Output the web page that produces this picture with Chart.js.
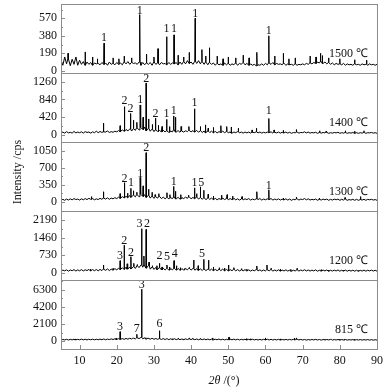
<!DOCTYPE html>
<html>
<head>
<meta charset="utf-8">
<script src="https://cdn.jsdelivr.net/npm/chart.js@4.4.1/dist/chart.umd.min.js"></script>
<style>
  html, body { margin: 0; padding: 0; background: #fff; }
  canvas { display: block; }
</style>
</head>
<body>
<canvas id="xrd" width="392" height="388"></canvas>
<script>
// 2θ axis
const xTicks = [10, 20, 30, 40, 50, 60, 70, 80, 90];

// y tick labels per pattern
const yTicks1500 = [0, 190, 380, 570];
const yTicks1400 = [0, 420, 840, 1260];
const yTicks1300 = [0, 350, 700, 1050];
const yTicks1200 = [0, 730, 1460, 2190];
const yTicks815 = [0, 2100, 4200, 6300];

// background counts from 5° to 90° in 0.5° steps
const base1500 = [
  110, 60, 150, 75, 130, 55, 125, 70, 140, 60,
  115, 70, 100, 60, 95, 70, 90, 60, 85, 75,
  80, 65, 90, 70, 85, 60, 95, 70, 80, 65,
  90, 70, 85, 65, 95, 75, 100, 70, 90, 80,
  85, 70, 95, 60, 90, 65, 85, 70, 90, 60,
  95, 70, 85, 65, 90, 75, 80, 65, 90, 70,
  85, 75, 90, 65, 95, 70, 100, 75, 110, 80,
  95, 70, 105, 80, 110, 75, 100, 70, 95, 65,
  90, 70, 85, 60, 80, 65, 75, 60, 85, 65,
  80, 60, 75, 65, 85, 60, 80, 70, 90, 65,
  80, 60, 75, 60, 70, 55, 65, 60, 75, 60,
  80, 65, 85, 70, 90, 65, 80, 70, 75, 65,
  80, 60, 75, 65, 70, 60, 75, 60, 70, 65,
  75, 65, 80, 70, 85, 75, 90, 80, 95, 85,
  100, 80, 95, 75, 90, 70, 85, 65, 80, 70,
  75, 65, 80, 60, 75, 65, 70, 60, 75, 65,
  70, 60, 75, 65, 70, 60, 75, 65, 70, 60,
  70
];
const base1400 = [
  40, 70, 45, 80, 50, 65, 45, 85, 50, 70,
  55, 75, 45, 80, 60, 70, 45, 75, 55, 90,
  55, 85, 60, 75, 70, 95, 60, 80, 65, 90,
  75, 105, 80, 120, 90, 130, 100, 140, 95, 150,
  110, 170, 120, 180, 130, 190, 100, 160, 90, 140,
  80, 120, 85, 110, 75, 115, 70, 100, 65, 95,
  75, 120, 70, 105, 65, 95, 70, 100, 80, 110,
  75, 105, 70, 110, 65, 100, 60, 95, 55, 90,
  60, 90, 55, 85, 50, 80, 60, 90, 55, 80,
  50, 75, 45, 70, 55, 80, 50, 70, 45, 70,
  50, 70, 45, 65, 55, 75, 50, 70, 45, 65,
  50, 70, 55, 75, 45, 65, 50, 70, 45, 65,
  50, 70, 45, 65, 40, 60, 50, 70, 45, 60,
  55, 75, 50, 70, 45, 60, 50, 65, 40, 60,
  45, 60, 50, 65, 40, 55, 45, 60, 50, 65,
  40, 55, 45, 60, 40, 55, 45, 60, 40, 55,
  40, 55, 45, 60, 40, 55, 50, 60, 45, 55,
  40
];
const base1300 = [
  30, 55, 35, 60, 40, 65, 45, 70, 50, 60,
  40, 65, 45, 70, 50, 75, 55, 70, 45, 65,
  50, 75, 55, 80, 60, 85, 55, 80, 65, 90,
  70, 100, 75, 110, 85, 120, 90, 130, 95, 140,
  105, 150, 110, 160, 115, 150, 95, 140, 80, 120,
  75, 110, 80, 115, 70, 100, 65, 95, 60, 90,
  70, 100, 65, 95, 60, 90, 70, 100, 75, 105,
  65, 95, 70, 100, 60, 90, 55, 85, 50, 80,
  55, 80, 50, 75, 45, 70, 55, 80, 50, 70,
  45, 70, 50, 75, 45, 65, 40, 60, 45, 65,
  50, 70, 40, 60, 45, 65, 50, 70, 40, 60,
  45, 65, 50, 70, 40, 60, 45, 65, 40, 60,
  45, 65, 40, 60, 35, 55, 45, 65, 40, 60,
  50, 70, 45, 65, 40, 55, 45, 60, 35, 55,
  40, 60, 45, 60, 35, 55, 40, 60, 45, 60,
  35, 55, 40, 60, 35, 50, 40, 55, 35, 55,
  35, 50, 40, 55, 35, 55, 45, 55, 40, 50,
  35
];
const base1200 = [
  70, 120, 90, 130, 75, 125, 95, 140, 80, 130,
  90, 140, 85, 135, 100, 150, 90, 140, 95, 145,
  90, 150, 100, 160, 110, 170, 100, 160, 120, 180,
  130, 200, 140, 220, 150, 240, 160, 250, 170, 260,
  190, 300, 220, 330, 240, 330, 200, 300, 160, 250,
  150, 230, 140, 220, 130, 200, 125, 190, 120, 180,
  130, 200, 120, 190, 115, 180, 125, 190, 130, 200,
  120, 190, 115, 180, 110, 170, 105, 160, 100, 160,
  105, 160, 100, 150, 95, 150, 100, 160, 95, 150,
  90, 140, 95, 150, 90, 140, 85, 130, 90, 140,
  85, 130, 80, 125, 90, 140, 85, 130, 80, 125,
  85, 135, 90, 140, 80, 125, 85, 130, 80, 120,
  85, 130, 80, 120, 75, 115, 85, 130, 80, 125,
  90, 135, 85, 125, 80, 120, 85, 130, 75, 115,
  80, 120, 85, 125, 75, 115, 80, 120, 85, 125,
  75, 115, 80, 120, 75, 115, 80, 115, 75, 115,
  75, 110, 80, 120, 75, 115, 85, 120, 80, 115,
  75
];
const base815 = [
  110, 190, 130, 210, 120, 200, 140, 220, 130, 210,
  150, 230, 140, 220, 130, 210, 150, 230, 140, 220,
  150, 240, 160, 250, 150, 240, 170, 260, 180, 270,
  190, 290, 200, 300, 210, 320, 220, 340, 230, 350,
  260, 400, 300, 430, 280, 400, 240, 350, 220, 330,
  210, 310, 200, 300, 190, 290, 180, 280, 170, 270,
  180, 280, 170, 260, 160, 250, 170, 260, 180, 270,
  170, 260, 160, 250, 150, 240, 160, 250, 150, 240,
  150, 230, 140, 220, 150, 230, 140, 220, 130, 210,
  140, 220, 150, 230, 140, 220, 130, 210, 140, 220,
  130, 210, 140, 220, 130, 200, 120, 200, 130, 210,
  140, 220, 130, 210, 120, 200, 130, 210, 120, 190,
  130, 210, 120, 200, 130, 210, 140, 220, 130, 200,
  120, 190, 110, 180, 120, 190, 130, 200, 120, 190,
  110, 180, 120, 190, 130, 200, 110, 180, 120, 190,
  110, 180, 120, 190, 110, 170, 120, 180, 110, 170,
  120, 180, 110, 170, 120, 180, 110, 170, 100, 160,
  110
];

// diffraction peaks: [2θ, counts]
const peaks1500 = [
  [6.9, 190], [9.0, 150], [11.5, 205], [13.5, 150], [14.8, 130], [16.6, 300], [19.0, 140],
  [20.6, 130], [22.0, 160], [24.0, 140], [26.2, 610], [28.0, 180], [30.0, 150], [31.1, 240],
  [33.4, 370], [35.4, 390], [36.5, 170], [38.0, 150], [39.5, 200], [41.1, 570], [42.9, 230],
  [43.9, 160], [44.9, 250], [47.0, 160], [48.6, 130], [50.0, 150], [52.0, 140], [54.0, 170],
  [55.6, 140], [57.7, 200], [60.9, 380], [62.5, 160], [64.8, 190], [66.3, 130], [68.0, 140],
  [72.0, 160], [73.6, 150], [74.8, 190], [75.3, 165], [77.0, 140], [80.0, 130], [84.0, 120],
  [87.2, 115]
];
const peaks1400 = [
  [16.4, 280], [20.9, 220], [22.1, 670], [23.7, 510], [24.5, 350], [25.4, 300], [26.3, 710],
  [27.1, 420], [27.9, 1230], [28.6, 380], [29.6, 250], [30.4, 400], [31.2, 230], [32.2, 200],
  [33.4, 370], [34.2, 200], [35.3, 450], [35.8, 420], [37.3, 200], [39.4, 200], [40.9, 620],
  [42.5, 200], [43.8, 240], [44.6, 160], [46.0, 180], [48.0, 220], [49.6, 200], [50.8, 190],
  [52.7, 160], [56.4, 120], [57.6, 160], [60.9, 390], [62.3, 120], [64.8, 110], [68.3, 130],
  [74.6, 100], [76.3, 90], [81.5, 100], [84.0, 90], [86.5, 100]
];
const peaks1300 = [
  [13.2, 110], [16.4, 210], [20.9, 170], [22.1, 395], [22.9, 180], [23.8, 280], [24.5, 230],
  [25.4, 200], [26.3, 505], [27.1, 330], [27.9, 1009], [28.6, 260], [29.5, 200], [30.3, 150],
  [31.3, 170], [33.5, 190], [34.3, 150], [35.3, 320], [35.8, 220], [37.2, 150], [39.3, 140],
  [40.9, 290], [41.5, 170], [42.5, 310], [43.4, 240], [44.6, 160], [46.0, 120], [48.2, 140],
  [49.7, 150], [51.2, 120], [53.7, 110], [57.7, 210], [60.9, 250], [64.8, 80], [68.3, 100],
  [74.5, 80], [81.4, 90], [85.6, 110]
];
const peaks1200 = [
  [12.9, 160], [16.4, 330], [19.0, 200], [20.9, 508], [22.0, 1150], [22.8, 380], [23.8, 674],
  [24.6, 400], [25.5, 350], [26.7, 1830], [27.3, 700], [27.9, 1800], [28.7, 450], [29.6, 300],
  [30.8, 300], [31.5, 400], [32.2, 250], [33.5, 330], [34.2, 250], [35.4, 510], [36.1, 300],
  [37.1, 220], [38.2, 180], [39.5, 230], [40.7, 535], [41.9, 300], [43.4, 565], [44.7, 530],
  [46.0, 250], [47.6, 220], [49.0, 200], [50.1, 330], [51.5, 220], [53.6, 180], [55.0, 160],
  [57.7, 290], [60.4, 330], [61.5, 200], [64.0, 160], [66.8, 150], [68.5, 200], [73.5, 130],
  [75.0, 140], [77.0, 120], [81.0, 110], [85.0, 100]
];
const peaks815 = [
  [8.8, 250], [12.4, 220], [16.0, 250], [19.8, 350], [20.9, 1150], [23.5, 300], [24.3, 350],
  [25.4, 830], [26.7, 6400], [27.8, 400], [28.4, 300], [29.5, 280], [31.5, 1270], [33.5, 300],
  [35.0, 280], [36.6, 350], [38.0, 250], [39.5, 380], [40.4, 330], [42.5, 300], [45.8, 380],
  [47.3, 250], [50.2, 480], [54.9, 300], [56.0, 280], [60.0, 380], [64.0, 260], [67.8, 350],
  [68.3, 380], [73.5, 230], [75.7, 250], [77.7, 220], [80.0, 230], [81.2, 220], [83.9, 200]
];

// phase labels: [2θ, counts at text baseline, text]
const labels1500 = [[16.6, 324, "1"], [26.2, 616, "1"], [33.4, 420, "1"], [35.4, 420, "1"], [41.1, 584, "1"], [60.9, 400, "1"]];
const labels1400 = [[22.1, 733, "2"], [23.7, 544, "2"], [26.3, 756, "1"], [27.9, 1253, "2"], [30.4, 425, "2"],
  [33.4, 425, "1"], [35.3, 496, "1"], [40.9, 693, "1"], [60.9, 496, "1"]];
const labels1300 = [[22.1, 409, "2"], [23.8, 327, "1"], [26.3, 522, "1"], [27.9, 1034, "2"], [35.3, 348, "1"],
  [40.9, 327, "1"], [42.7, 327, "5"], [60.9, 276, "1"]];
const labels1200 = [[20.9, 566, "3"], [22.0, 1198, "2"], [23.8, 702, "2"], [26.1, 1900, "3"], [28.1, 1900, "2"],
  [31.5, 566, "2"], [33.5, 537, "5"], [35.6, 674, "4"], [42.9, 674, "5"]];
const labels815 = [[20.9, 1358, "3"], [25.4, 1150, "7"], [26.7, 6510, "3"], [31.5, 1692, "6"]];

const temps = ["815 ℃", "1200 ℃", "1300 ℃", "1400 ℃", "1500 ℃"];

// bottom panel first: left stacked axes are laid out in reverse
const panels = [
  { id: "y815", base: base815, peaks: peaks815, ticks: yTicks815, labels: labels815, min: -988, max: 7535 },
  { id: "y1200", base: base1200, peaks: peaks1200, ticks: yTicks1200, labels: labels1200, min: -289, max: 2562 },
  { id: "y1300", base: base1300, peaks: peaks1300, ticks: yTicks1300, labels: labels1300, min: -184, max: 1228 },
  { id: "y1400", base: base1400, peaks: peaks1400, ticks: yTicks1400, labels: labels1400, min: -165, max: 1466 },
  { id: "y1500", base: base1500, peaks: peaks1500, ticks: yTicks1500, labels: labels1500, min: -24, max: 725 },
];

const SERIF = '"Liberation Serif", "Times New Roman", serif';
const STEP = 0.5;

function buildSeries(base, peaks) {
  const pts = base.map((v, i) => ({ x: 5 + i * STEP, y: v }));
  peaks.forEach(([pos, h]) => {
    const i = Math.min(base.length - 1, Math.max(0, Math.round((pos - 5) / STEP)));
    pts.push({ x: pos - 0.06, y: base[i] }, { x: pos, y: h }, { x: pos + 0.06, y: base[i] });
  });
  return pts.sort((a, b) => a.x - b.x);
}

const framePlugin = {
  id: "xrd-frame",
  afterDatasetsDraw(chart) {
    const { ctx, chartArea: area, scales } = chart;
    const xs = scales.x;
    ctx.save();
    ctx.lineWidth = 1;
    panels.forEach((p, idx) => {
      const ys = scales[p.id];
      ctx.strokeStyle = "#8c8c8c";
      ctx.strokeRect(area.left + 0.5, Math.round(ys.top) + 0.5, area.right - area.left, Math.round(ys.bottom - ys.top));

      // inward y ticks, with half-step minors
      const step = p.ticks[1] - p.ticks[0];
      ctx.beginPath();
      for (let v = 0; v <= p.max; v += step / 2) {
        const y = Math.round(ys.getPixelForValue(v)) + 0.5;
        const len = p.ticks.includes(v) ? 4 : 2;
        ctx.moveTo(area.left, y);
        ctx.lineTo(area.left + len, y);
      }
      ctx.stroke();

      ctx.fillStyle = "#111";
      ctx.font = `12px ${SERIF}`;
      ctx.textAlign = "right";
      ctx.textBaseline = "middle";
      p.ticks.forEach((t) => {
        ctx.fillText(String(t), area.left - 4, ys.getPixelForValue(t));
      });

      ctx.textAlign = "center";
      ctx.textBaseline = "alphabetic";
      p.labels.forEach(([x, v, text]) => {
        ctx.fillText(text, xs.getPixelForValue(x), ys.getPixelForValue(v));
      });

      ctx.textAlign = "right";
      ctx.fillText(temps[idx], area.right - 9, ys.bottom - 16);
    });

    // 2θ ticks along the bottom panel
    ctx.strokeStyle = "#8c8c8c";
    ctx.beginPath();
    xTicks.forEach((t) => {
      const x = Math.round(xs.getPixelForValue(t)) + 0.5;
      ctx.moveTo(x, area.bottom);
      ctx.lineTo(x, area.bottom - 4);
    });
    ctx.stroke();
    ctx.fillStyle = "#111";
    ctx.textAlign = "center";
    ctx.textBaseline = "middle";
    xTicks.forEach((t) => ctx.fillText(String(t), xs.getPixelForValue(t), area.bottom + 12));

    // axis titles
    ctx.save();
    ctx.translate(17.5, 172);
    ctx.rotate(-Math.PI / 2);
    ctx.fillText("Intensity /cps", 0, 0);
    ctx.restore();

    ctx.textBaseline = "alphabetic";
    ctx.textAlign = "left";
    ctx.font = `italic 12px ${SERIF}`;
    const a = "2θ";
    const wa = ctx.measureText(a).width;
    ctx.font = `12px ${SERIF}`;
    const b = " /(°)";
    const wb = ctx.measureText(b).width;
    const x0 = 224 - (wa + wb) / 2;
    ctx.font = `italic 12px ${SERIF}`;
    ctx.fillText(a, x0, 384);
    ctx.font = `12px ${SERIF}`;
    ctx.fillText(b, x0 + wa, 384);
    ctx.restore();
  },
};

const hidden = {
  ticks: { display: false },
  grid: { display: false },
  border: { display: false },
};

const scales = {
  x: {
    type: "linear", min: 5, max: 90, ...hidden,
    afterFit(s) { s.height = 0; },
  },
};
panels.forEach((p) => {
  scales[p.id] = {
    type: "linear", position: "left", stack: "xrd", stackWeight: 1,
    min: p.min, max: p.max, ...hidden,
    afterFit(s) { s.width = 0; },
  };
});

new Chart(document.getElementById("xrd"), {
  type: "line",
  data: {
    datasets: panels.map((p) => ({
      data: buildSeries(p.base, p.peaks),
      xAxisID: "x",
      yAxisID: p.id,
      borderColor: "#000",
      borderWidth: 1,
      pointRadius: 0,
      tension: 0,
      fill: false,
    })),
  },
  options: {
    responsive: false,
    animation: false,
    devicePixelRatio: 1,
    events: [],
    layout: { padding: { left: 61, right: 15, top: 4, bottom: 39 } },
    plugins: { legend: { display: false }, tooltip: { enabled: false } },
    scales,
  },
  plugins: [framePlugin],
});
</script>
</body>
</html>
